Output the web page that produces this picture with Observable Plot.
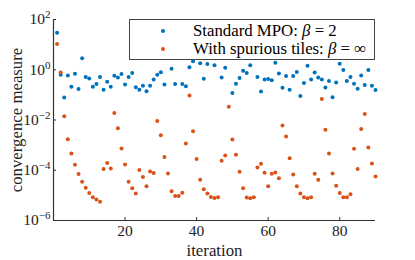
<!DOCTYPE html>
<html><head><meta charset="utf-8">
<script src="https://cdn.jsdelivr.net/npm/d3@7"></script>
<script src="https://cdn.jsdelivr.net/npm/@observablehq/plot@0.6"></script>
<style>
body{margin:0;background:#fff;}
#wrap{position:relative;width:415px;height:260px;font-family:"Liberation Serif",serif;}
#legend{position:absolute;left:129px;top:19px;width:246px;height:41px;box-sizing:border-box;background:#fff;border:1px solid #444;font-size:16.8px;color:#000;}
.row{position:absolute;left:0;height:19px;line-height:19px;white-space:nowrap;}
.mk{position:absolute;left:31px;top:7.5px;width:4px;height:4px;border-radius:50%;}
.lt{position:absolute;left:63px;top:0;}
</style>
</head><body>
<div id="wrap"><div id="legend"></div></div>
<script>
const seriesNames = ["Standard MPO: ", "With spurious tiles: "];
const seriesBeta = ["2", "∞"];
const seriesColors = ["#0072BD", "#D95319"];
const xTicks = [20, 40, 60, 80];
const yTicks = [1e-6, 1e-4, 1e-2, 1, 1e2];
const standardMPO = [
  2.95e1, 6.3e-1, 7.9e-2, 5.9e-1, 2.1e-1, 6.9e-1, 1.7e-1, 2.9e0, 5.1e-1, 4.5e-1,
  2.1e-1, 2.7e-1, 5.2e-1, 1.6e-1, 3.3e-1, 2.1e-1, 5.8e-1, 4.9e-1, 6.8e-1, 2.6e-1,
  5.1e-1, 7.4e-1, 2.0e-1, 1.6e-1, 2.3e-1, 1.4e-1, 2.3e-1, 4.1e-1, 6.3e-1, 7.9e-1,
  2.6e-1, 4.0e0, 1.1e0, 2.7e-1, 5.0e0, 2.7e-1, 2.2e-1, 1.26e0, 2.2e0, 3.2e0,
  1.8e0, 4.4e-1, 1.7e0, 3.5e0, 1.5e0, 4.5e0, 4.9e-1, 1.2e0, 3.2e0, 1.2e-1,
  2.8e-1, 4.7e-1, 9.1e-1, 7.4e-1, 1.5e0, 4.0e0, 5.2e-1, 1.35e-1, 4.1e-1, 4.3e-1,
  3.8e-1, 1.9e0, 7.1e-1, 1.9e-1, 5.6e-1, 1.6e-1, 5.6e-1, 8.1e-1, 9.1e-2, 3.0e-1,
  1.45e0, 4.1e-1, 7.8e-1, 4.9e-1, 4.1e-1, 1.95e-1, 3.6e-1, 8.1e-2, 3.1e-1, 1.74e0,
  9.8e-1, 3.6e-1, 5.2e-1, 2.75e-1, 1.74e-1, 5.9e-1, 2.5e-1, 9.8e-1, 2.3e-1, 1.55e-1
];
const spuriousTiles = [
  1.07e1, 7.8e-1, 1.4e-2, 1.7e-3, 4.6e-4, 1.66e-4, 7.1e-5, 3.5e-5, 2.0e-5, 1.23e-5,
  8.5e-6, 6.8e-6, 5.6e-6, 1.12e-4, 1.95e-4, 1.17e-4, 1.9e-2, 4.7e-3, 7.4e-4, 1.7e-4,
  3.5e-5, 1.9e-5, 1.2e-5, 1.02e-4, 5.4e-5, 2.3e-5, 8.9e-5, 7.8e-5, 9.1e-3, 2.5e-3,
  3.4e-4, 7.4e-5, 1.45e-5, 9.5e-6, 9.5e-6, 1.26e-5, 1.17e-3, 9.5e-2, 3.6e-3, 2.8e-4,
  4.2e-5, 1.74e-5, 1.2e-5, 8.7e-6, 7.9e-6, 8.5e-6, 2.4e-4, 3.9e-4, 3.4e-2, 1.66e-3,
  4.1e-4, 8.7e-5, 1.9e-5, 8.3e-6, 7.6e-6, 8.5e-6, 1.29e-4, 1.8e-4, 7.9e-5, 2.3e-5,
  7.2e-5, 8.1e-5, 4.8e-5, 6.0e-3, 2.2e-3, 3.0e-4, 6.8e-5, 2.3e-5, 1.2e-5, 8.5e-6,
  7.6e-6, 8.5e-6, 7.2e-5, 4.2e-5, 6.9e-2, 4.1e-3, 4.6e-4, 7.4e-5, 2.4e-5, 1.23e-5,
  8.5e-6, 8.5e-6, 1.1e-5, 7.2e-4, 1.12e-4, 4.4e-3, 1.74e-2, 8.1e-4, 1.86e-4, 5.6e-5
];
const iterations = standardMPO.map((_, i) => i + 1);

const axisColor = "#333";
const chart = Plot.plot({
  width: 415, height: 260,
  marginLeft: 53, marginRight: 40, marginTop: 19, marginBottom: 40,
  style: {fontFamily: "Liberation Serif, serif", fontSize: "15.5px", color: "#222", background: "#fff"},
  x: {domain: [0, 90]},
  y: {type: "log", domain: [1e-6, 1e2]},
  marks: [
    Plot.axisX({ticks: xTicks, tickSize: -3, tickPadding: 7, stroke: axisColor, fill: "#222",
      label: null}),
    Plot.axisX({ticks: [], label: "iteration", labelAnchor: "center", labelOffset: 35, labelArrow: false,
      fontSize: 16.8, fill: "#222"}),
    Plot.axisY({ticks: yTicks, tickSize: -3, tickPadding: 6, stroke: axisColor, fill: "#222",
      tickFormat: d => String(Math.round(Math.log10(d))).replace("-", "−"), label: null}),
    Plot.axisY({ticks: [], label: "convergence measure", labelAnchor: "center", labelOffset: 43, labelArrow: false,
      fontSize: 16.8, fill: "#222"}),
    Plot.ruleX([0], {stroke: axisColor, strokeWidth: 1.2}),
    Plot.ruleY([1e-6], {stroke: axisColor, strokeWidth: 1.2}),
    Plot.dot(standardMPO, {x: (d, i) => iterations[i], y: d => d, r: 2, fill: seriesColors[0], stroke: "none"}),
    Plot.dot(spuriousTiles, {x: (d, i) => iterations[i], y: d => d, r: 2, fill: seriesColors[1], stroke: "none"})
  ]
});
document.getElementById("wrap").prepend(chart);

// superscript exponents for y tick labels
d3.select(chart).selectAll('g[aria-label="y-axis tick label"] text').each(function() {
  const e = this.textContent;
  if (!e) return;
  const t = d3.select(this);
  t.text(null);
  t.append("tspan").text("10");
  t.append("tspan").attr("dy", "-0.55em").attr("font-size", "11px").text(e);
});

// legend
const legend = d3.select("#legend");
seriesNames.forEach((name, k) => {
  const row = legend.append("div").attr("class", "row").style("top", (k === 0 ? 1 : 19) + "px")
    .style("width", "100%");
  row.append("span").attr("class", "mk").style("background", seriesColors[k]);
  const lt = row.append("span").attr("class", "lt");
  lt.append("span").text(name);
  lt.append("i").text("β");
  lt.append("span").text(" = " + seriesBeta[k]);
});
</script>
</body></html>
